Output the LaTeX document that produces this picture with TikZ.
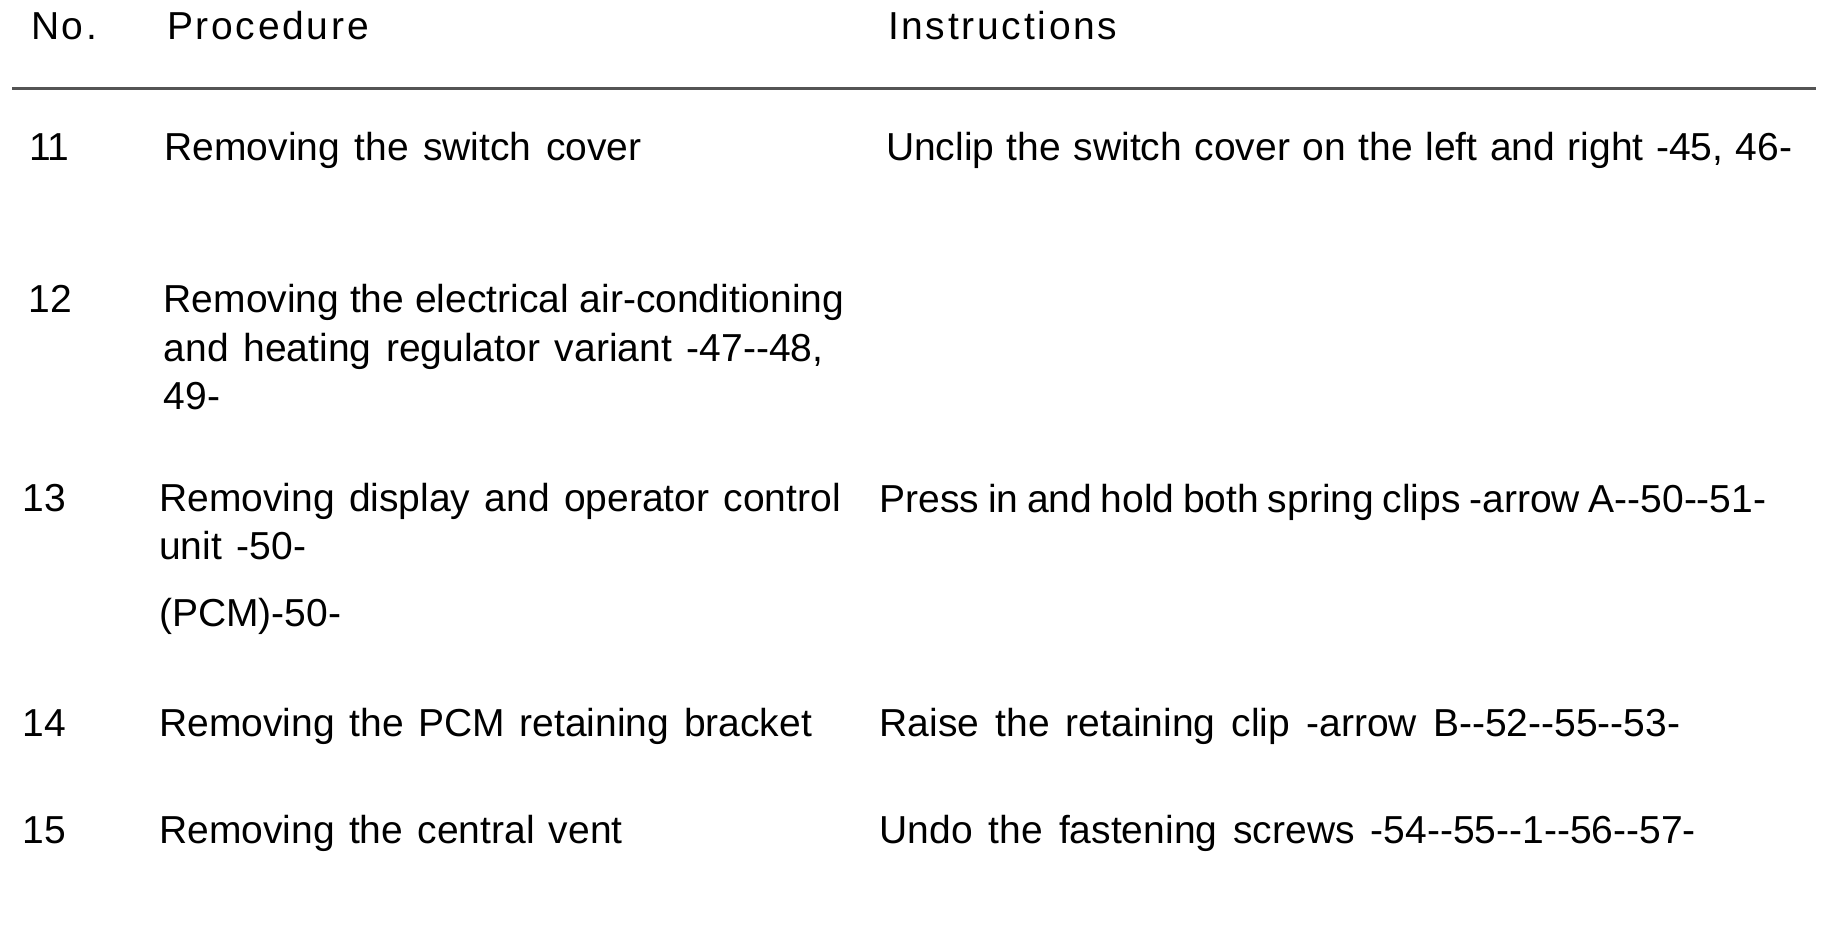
\documentclass[tikz,border=0pt]{standalone}
\usepackage{fontspec}
\setmainfont{Liberation Sans}[Ligatures=TeXOff]
\newfontfamily\hdrfont{Liberation Sans}[LetterSpace=7,Ligatures=TeXOff]
\newcommand\setwordspace[1]{\spaceskip=#1pt plus 0pt minus 0pt\relax}
\tikzset{
  cell/.style={anchor=base west,inner sep=0pt,outer sep=0pt,font=\fontsize{39}{48}\selectfont,text=black},
  sp/.style={execute at begin node={\setwordspace{#1}}},
  hdr/.style={anchor=base west,inner sep=0pt,outer sep=0pt,font=\hdrfont\fontsize{39}{48}\selectfont,text=black},
  rulerline/.style={draw=black!67,line width=2.7pt}}
\begin{document}
\begin{tikzpicture}[x=1pt,y=-1pt]
\useasboundingbox[fill=white] (0,0) rectangle (1836,924);
% header
\node[hdr] (hno) at (31,39.3) {No.};
\node[hdr] (hproc) at (167,39.3) {Procedure};
\node[hdr] (hinst) at (888,39.3) {Instructions};
\coordinate (rl) at (12,88.7);
\coordinate (rr) at (1816,88.7);
\draw[rulerline] (rl) -- (rr);
% row 11
\node[cell] (n11) at (29,160.7) {11};
\node[cell,sp=14.5] (p11) at (164.5,160.7) {Removing the switch cover};
\node[cell,sp=12.6] (i11) at (886,160.7) {Unclip the switch cover on the left and right -45, 46-};
% row 12
\node[cell] (n12) at (28.5,312.7) {12};
\node[cell] (p12a) at (163.7,312.7) {Removing the electrical air-conditioning};
\node[cell,sp=14.8] (p12b) at (163.7,361.2) {and heating regulator variant -47--48,};
\node[cell] (p12c) at (163.7,409.7) {49-};
% row 13
\node[cell] (n13) at (22.5,511.7) {13};
\node[cell,sp=14.3] (p13a) at (159.3,511.7) {Removing display and operator control};
\node[cell,sp=14.6] (p13b) at (159.3,559.7) {unit -50-};
\node[cell] (p13c) at (159.3,626) {(PCM)-50-};
\node[cell,sp=8.7] (i13) at (879.7,512) {Press in and hold both spring clips -arrow A--50--51-};
% row 14
\node[cell] (n14) at (22.5,736) {14};
\node[cell,sp=14.7] (p14) at (159.3,736) {Removing the PCM retaining bracket};
\node[cell,sp=16.2] (i14) at (879.7,736) {Raise the retaining clip -arrow B--52--55--53-};
% row 15
\node[cell] (n15) at (22.5,843.5) {15};
\node[cell,sp=14.3] (p15) at (159.3,843.5) {Removing the central vent};
\node[cell,sp=16.0] (i15) at (879.7,843.5) {Undo the fastening screws -54--55--1--56--57-};
\end{tikzpicture}
\end{document}
